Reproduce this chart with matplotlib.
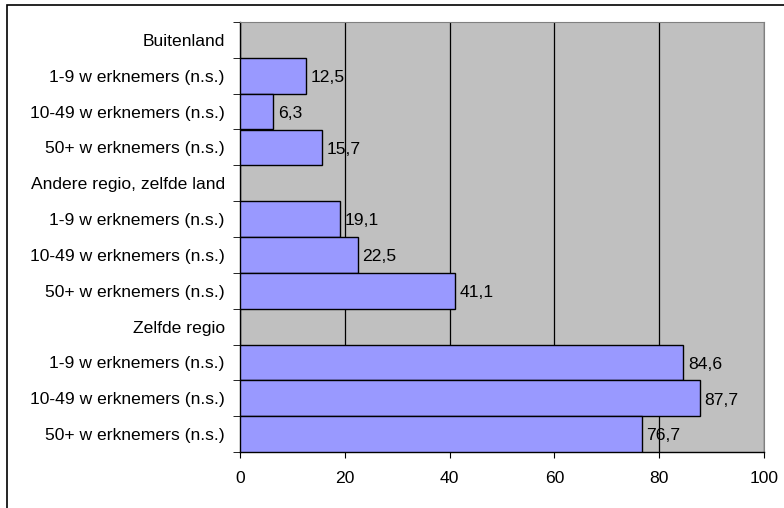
import matplotlib.pyplot as plt
from matplotlib.patches import Rectangle

plt.rcParams['font.family'] = ['Liberation Sans', 'DejaVu Sans']

# rows from top to bottom; None marks a group heading without a bar
labels = [
    'Buitenland',
    '1-9 w erknemers (n.s.)',
    '10-49 w erknemers (n.s.)',
    '50+ w erknemers (n.s.)',
    'Andere regio, zelfde land',
    '1-9 w erknemers (n.s.)',
    '10-49 w erknemers (n.s.)',
    '50+ w erknemers (n.s.)',
    'Zelfde regio',
    '1-9 w erknemers (n.s.)',
    '10-49 w erknemers (n.s.)',
    '50+ w erknemers (n.s.)',
]
values = [None, 12.5, 6.3, 15.7, None, 19.1, 22.5, 41.1, None, 84.6, 87.7, 76.7]
xticks = [0, 20, 40, 60, 80, 100]

fs = 12.6
fig = plt.figure(figsize=(7.84, 5.08), dpi=100)
ax = fig.add_axes([240 / 784, 1 - 452 / 508, 524 / 784, 430 / 508])

# outer frame, open at the right and bottom edges
fig.patches.append(Rectangle((7 / 784, -0.1), 1.1, 0.1 + 1 - 5 / 508,
                             transform=fig.transFigure, fill=False,
                             edgecolor='black', linewidth=1.2))

n = len(labels)
ypos = list(range(n))
ax.set_facecolor('#c0c0c0')
for y, v in zip(ypos, values):
    if v is None:
        continue
    ax.barh(y, v, height=1.0, color='#9999ff', edgecolor='black', linewidth=1.0, zorder=3)
    ax.text(v + 0.9, y + 0.05, f'{v:.1f}'.replace('.', ','), va='center', ha='left',
            fontsize=fs, zorder=4)

ax.set_xlim(0, 100)
ax.set_ylim(n - 0.5, -0.5)
ax.set_xticks(xticks)
ax.set_xticklabels([str(t) for t in xticks], fontsize=fs)
ax.set_yticks(ypos)
ax.set_yticklabels(labels, fontsize=fs)
ax.tick_params(axis='y', length=0, pad=11)
ax.tick_params(axis='x', length=4, direction='out', pad=10)
ax.set_yticks([y + 0.5 for y in range(-1, n)], minor=True)
ax.tick_params(axis='y', which='minor', length=5, direction='out')

ax.xaxis.grid(True, color='black', linewidth=0.9, zorder=1)
ax.set_axisbelow(True)
for side in ['top', 'right']:
    ax.spines[side].set_color('#808080')
for side in ['left', 'bottom']:
    ax.spines[side].set_color('black')
    ax.spines[side].set_linewidth(1.0)

fig.savefig('out.png', dpi=100)
